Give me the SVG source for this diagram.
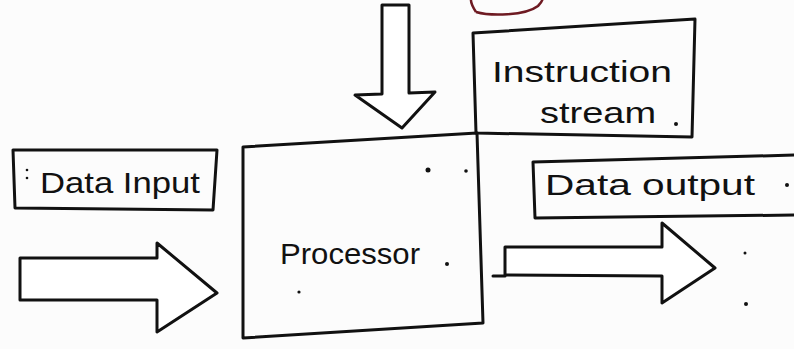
<svg xmlns="http://www.w3.org/2000/svg" width="794" height="349" viewBox="0 0 794 349">
<style>
.ln{fill:none;stroke:#111;stroke-width:3;stroke-linejoin:round;stroke-linecap:round}
.ar{fill:#fff;stroke:#111;stroke-width:3;stroke-linejoin:round;stroke-linecap:round}
.tx{font-family:"Liberation Sans","DejaVu Sans",sans-serif;fill:#111;font-size:30px}
.dot{fill:#111}
</style>
<rect width="794" height="349" fill="#fcfcfc"/>
<path d="M476,12 C468,0 470,-6 478,-8 M476,12 C490,16 525,16 538,6 C544,0 544,-4 540,-8" fill="none" stroke="#6e1a22" stroke-width="2.5"/>
<g id="connectors">
  <path class="ar" d="M382,5 L409,5 L409,93 L435,92 L402,128 L355,95 L382,94 Z"/>
  <path class="ar" d="M20,258 L157,258 L157,243 L217,293 L157,332 L157,300 L20,300 Z"/>
  <path class="ar" d="M505,247 L662,247 L662,223 L715,268 L662,303 L662,276 L505,275 Z"/>
  <path class="ln" d="M493,276 L505,276"/>
</g>
<g id="instruction-stream">
  <path class="ln" d="M473,33 L695,19 L692,137 L476,133 Z"/>
  <text class="tx" x="492" y="82" textLength="180" lengthAdjust="spacingAndGlyphs">Instruction</text>
  <text class="tx" x="540" y="123" textLength="116" lengthAdjust="spacingAndGlyphs">stream</text>
  <circle class="dot" cx="676" cy="124" r="2"/>
</g>
<g id="processor">
  <path class="ln" d="M243,147 L477,133 L483,323 L243,338 Z"/>
  <text class="tx" x="280" y="264" textLength="140" lengthAdjust="spacingAndGlyphs">Processor</text>
  <circle class="dot" cx="428" cy="170" r="2.5"/>
  <circle class="dot" cx="466" cy="171" r="1.8"/>
  <circle class="dot" cx="447" cy="264" r="2"/>
  <circle class="dot" cx="299" cy="292" r="1.6"/>
</g>
<g id="data-input">
  <path class="ln" d="M13,150 L217,150 L213,210 L15,208 Z"/>
  <text class="tx" x="40" y="193" textLength="160" lengthAdjust="spacingAndGlyphs">Data Input</text>
  <circle class="dot" cx="27" cy="170" r="1.3"/>
  <circle class="dot" cx="27" cy="178" r="1.3"/>
</g>
<g id="data-output">
  <path class="ln" d="M795,155 L533,162 L535,218 L795,215"/>
  <text class="tx" x="545" y="195" textLength="210" lengthAdjust="spacingAndGlyphs">Data output</text>
  <circle class="dot" cx="787" cy="185" r="2"/>
</g>
<circle class="dot" cx="745" cy="253" r="1.5"/>
<circle class="dot" cx="746" cy="304" r="2"/>
</svg>
